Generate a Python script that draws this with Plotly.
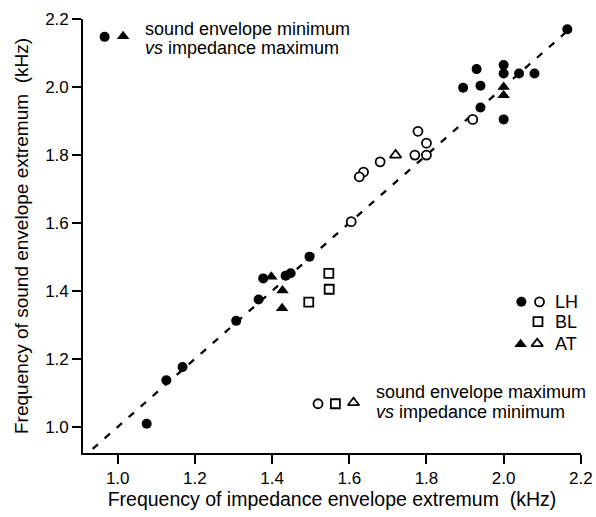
import plotly.graph_objects as go

# LH: sound envelope minimum vs impedance maximum (filled circles)
lh_min_x = [2.165, 1.93, 2.00, 2.00, 2.04, 2.08, 1.895, 1.94, 1.94, 2.00, 1.497, 1.435, 1.448, 1.377, 1.365, 1.307, 1.168, 1.126, 1.075]
lh_min_y = [2.17, 2.053, 2.065, 2.04, 2.04, 2.04, 1.998, 2.004, 1.94, 1.905, 1.501, 1.445, 1.452, 1.437, 1.375, 1.312, 1.176, 1.137, 1.009]
# AT: sound envelope minimum vs impedance maximum (filled triangles)
at_min_x = [1.398, 1.427, 1.426, 2.00, 2.00]
at_min_y = [1.442, 1.401, 1.349, 2.00, 1.976]
# LH: sound envelope maximum vs impedance minimum (open circles)
lh_max_x = [1.92, 1.778, 1.80, 1.80, 1.77, 1.68, 1.637, 1.626, 1.605]
lh_max_y = [1.905, 1.87, 1.835, 1.80, 1.80, 1.78, 1.75, 1.736, 1.604]
# AT: open triangle
at_max_x = [1.72]
at_max_y = [1.80]
# BL: open squares
bl_max_x = [1.547, 1.548, 1.495]
bl_max_y = [1.452, 1.405, 1.367]

x_ticks = [1.0, 1.2, 1.4, 1.6, 1.8, 2.0, 2.2]
y_ticks = [1.0, 1.2, 1.4, 1.6, 1.8, 2.0, 2.2]
x_range = [0.91, 2.2005]
y_range = [0.923, 2.2005]
diag = [0.935, 2.17]

FONT = "Liberation Sans, Arial, Helvetica, sans-serif"
fig = go.Figure()

fig.add_trace(go.Scatter(x=diag, y=diag, mode="lines",
                         line=dict(color="black", width=2.3, dash="7px,9px"),
                         hoverinfo="skip", showlegend=False))

def add(xs, ys, symbol, size, filled=True):
    fig.add_trace(go.Scatter(
        x=xs, y=ys, mode="markers", showlegend=False,
        marker=dict(symbol=symbol, size=size,
                    color="black" if filled else "white",
                    line=dict(color="black", width=0 if filled else 1.8))))

add(lh_min_x, lh_min_y, "circle", 10)
add(at_min_x, at_min_y, "triangle-up", 11)
add(lh_max_x, lh_max_y, "circle", 9, False)
add(at_max_x, at_max_y, "triangle-up", 10, False)
add(bl_max_x, bl_max_y, "square", 9, False)

# Key symbols
add([0.966], [2.148], "circle", 10)
add([1.014], [2.150], "triangle-up", 11)
add([1.519], [1.068], "circle", 9, False)
add([1.564], [1.068], "square", 9, False)
add([1.611], [1.071], "triangle-up", 10, False)
add([2.046], [1.368], "circle", 10)
add([2.093], [1.368], "circle", 9, False)
add([2.089], [1.310], "square", 9, False)
add([2.044], [1.243], "triangle-up", 11)
add([2.087], [1.245], "triangle-up", 10, False)

ann_font = dict(family=FONT, size=18, color="black")
for txt, xx, yy in [("sound envelope minimum", 1.066, 2.171),
                    ("<i>vs</i> impedance maximum", 1.066, 2.115),
                    ("sound envelope maximum", 1.663, 1.103),
                    ("<i>vs</i> impedance minimum", 1.663, 1.044)]:
    fig.add_annotation(x=xx, y=yy, xanchor="left", yanchor="middle", showarrow=False,
                       text=txt, font=ann_font)
for lbl, yy in [("LH", 1.368), ("BL", 1.310), ("AT", 1.243)]:
    fig.add_annotation(x=2.127, y=yy, xanchor="left", yanchor="middle", showarrow=False,
                       text=lbl, font=dict(family=FONT, size=18, color="black"))

axis_common = dict(showgrid=False, zeroline=False, showline=True, linecolor="black", linewidth=1.6,
                   ticks="outside", ticklen=9, tickwidth=1.6, tickcolor="black",
                   ticklabeloverflow="allow", automargin=False,
                   tickfont=dict(family=FONT, size=17, color="black"), tickformat=".1f")
fig.update_xaxes(range=x_range, tickvals=x_ticks, **axis_common,
                 title=dict(text="Frequency of impedance envelope extremum  (kHz)",
                            font=dict(family=FONT, size=19.5, color="black"), standoff=5))
fig.update_yaxes(range=y_range, tickvals=y_ticks, **axis_common,
                 title=dict(text="Frequency of sound envelope extremum  (kHz)",
                            font=dict(family=FONT, size=19, color="black"), standoff=12))

fig.update_layout(width=596, height=517, margin=dict(l=83, r=15, t=19, b=64, autoexpand=False),
                  plot_bgcolor="white", paper_bgcolor="white", showlegend=False)

fig.write_html("out.html")
